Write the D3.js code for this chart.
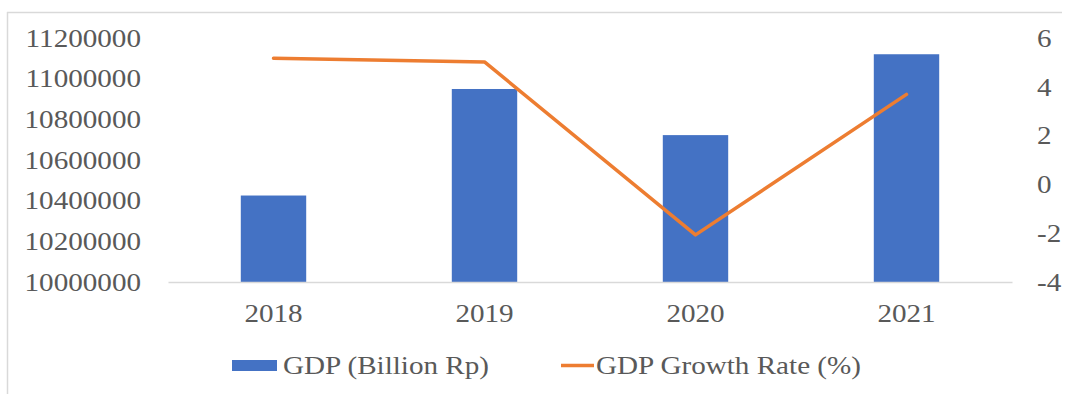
<!DOCTYPE html>
<html>
<head>
<meta charset="utf-8">
<script src="https://cdn.jsdelivr.net/npm/d3@7"></script>
<style>
  html, body { margin: 0; padding: 0; background: #fff; }
  svg { display: block; }
  text { font-family: "Liberation Serif", "Times New Roman", serif; fill: #595959; }
</style>
</head>
<body>
<script>
// Indonesia GDP at constant prices and its annual growth rate
const years = ["2018", "2019", "2020", "2021"];
const gdp = [10425300, 10949200, 10722400, 11120100];
const growth = [5.17, 5.02, -2.07, 3.69];
const gdpTicks = [10000000, 10200000, 10400000, 10600000, 10800000, 11000000, 11200000];
const growthTicks = [-4, -2, 0, 2, 4, 6];
const seriesNames = ["GDP (Billion Rp)", "GDP Growth Rate (%)"];

const W = 1067, H = 394;
const plot = { left: 168, right: 1012, top: 38, bottom: 282 };
const FONT = 26, STRETCH = 1.12;

const svg = d3.select("body").append("svg").attr("width", W).attr("height", H);
svg.append("rect").attr("width", W).attr("height", H).attr("fill", "#fff");

// frame edges
svg.append("line").attr("x1", 7.5).attr("x2", 7.5).attr("y1", 12).attr("y2", H)
  .attr("stroke", "#d9d9d9").attr("stroke-width", 1.5);
svg.append("line").attr("x1", 7).attr("x2", 1062).attr("y1", 12.5).attr("y2", 12.5)
  .attr("stroke", "#d9d9d9").attr("stroke-width", 1.5);

const x = d3.scaleBand().domain(years).range([plot.left, plot.right])
  .paddingInner(0.69).paddingOuter(0.345);
const yL = d3.scaleLinear().domain([10000000, 11200000]).range([plot.bottom, plot.top]);
const yR = d3.scaleLinear().domain([-4, 6]).range([plot.bottom, plot.top]);

// plain hyphen for negatives
const intFmt = d => String(Math.round(d));

// widen glyphs slightly to the wider serif look
function stretch(sel) {
  sel.each(function () {
    const w = this.getComputedTextLength();
    d3.select(this).attr("textLength", w * STRETCH).attr("lengthAdjust", "spacingAndGlyphs");
  });
}
function styleText(sel) {
  sel.attr("font-size", FONT)
    .attr("font-family", "Liberation Serif, Times New Roman, serif")
    .attr("fill", "#595959")
    .call(stretch);
}

// left axis
const gL = svg.append("g").attr("transform", `translate(${plot.left},0)`)
  .call(d3.axisLeft(yL).tickValues(gdpTicks).tickFormat(intFmt).tickSize(0).tickPadding(27));
gL.select(".domain").remove();
gL.selectAll("text").call(styleText);

// right axis
const gR = svg.append("g").attr("transform", `translate(${plot.right},0)`)
  .call(d3.axisRight(yR).tickValues(growthTicks).tickFormat(intFmt).tickSize(0).tickPadding(25));
gR.select(".domain").remove();
gR.selectAll("text").call(styleText);

// bars
svg.append("g").selectAll("rect").data(years).join("rect")
  .attr("x", d => x(d))
  .attr("width", x.bandwidth())
  .attr("y", (d, i) => yL(gdp[i]))
  .attr("height", (d, i) => plot.bottom - yL(gdp[i]))
  .attr("fill", "#4472C4");

// category axis
const gX = svg.append("g").attr("transform", `translate(0,${plot.bottom})`)
  .call(d3.axisBottom(x).tickSize(0).tickPadding(22));
gX.select(".domain").attr("stroke", "#d9d9d9").attr("stroke-width", 1.5);
gX.selectAll("text").call(styleText);

// growth line
const line = d3.line()
  .x((d, i) => x(years[i]) + x.bandwidth() / 2)
  .y(d => yR(d));
svg.append("path").datum(growth)
  .attr("d", line)
  .attr("fill", "none")
  .attr("stroke", "#ED7D31")
  .attr("stroke-width", 3.5)
  .attr("stroke-linejoin", "round")
  .attr("stroke-linecap", "round");

// legend
const lg = svg.append("g");
lg.append("rect").attr("x", 232).attr("y", 360).attr("width", 45).attr("height", 11).attr("fill", "#4472C4");
lg.append("text").attr("x", 283).attr("y", 374).text(seriesNames[0]).call(styleText);
lg.append("line").attr("x1", 561).attr("x2", 594).attr("y1", 365.5).attr("y2", 365.5)
  .attr("stroke", "#ED7D31").attr("stroke-width", 3.5);
lg.append("text").attr("x", 596).attr("y", 374).text(seriesNames[1]).call(styleText);
</script>
</body>
</html>
